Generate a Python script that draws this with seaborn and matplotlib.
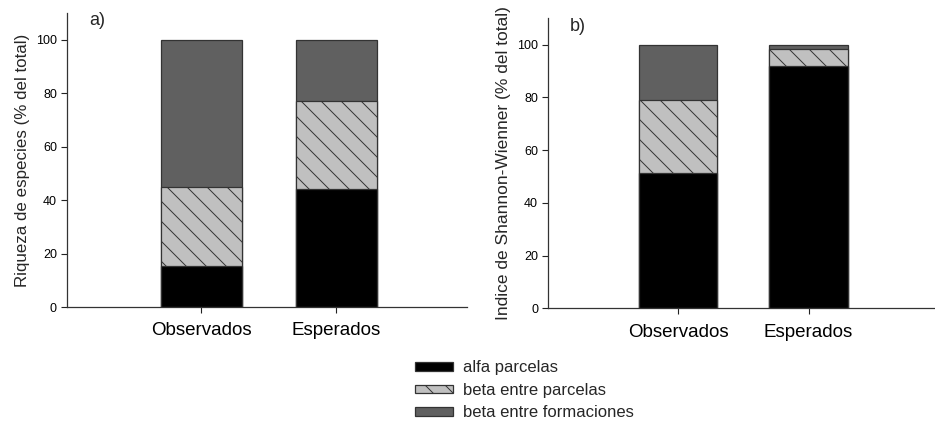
import numpy as np
import pandas as pd
import matplotlib
matplotlib.use("Agg")
import matplotlib.pyplot as plt
from matplotlib.patches import Patch
import seaborn as sns

categories = ["Observados", "Esperados"]
series_names = ["alfa parcelas", "beta entre parcelas", "beta entre formaciones"]

riqueza_alfa = [15.5, 44.2]
riqueza_beta_parcelas = [29.5, 32.8]
riqueza_beta_formaciones = [55.0, 23.0]

shannon_alfa = [51.3, 91.8]
shannon_beta_parcelas = [27.8, 6.6]
shannon_beta_formaciones = [20.9, 1.6]

ylabels = ["Riqueza de especies (% del total)", "Indice de Shannon-Wienner (% del total)"]
panel_tags = ["a)", "b)"]
yticks = [0, 20, 40, 60, 80, 100]

# render at dpi 120 (so the hatch spacing matches) and scale point sizes back
DPI = 120
S = 100.0 / DPI

sns.set_style("ticks")
plt.rcParams["font.family"] = ["Liberation Sans", "DejaVu Sans"]
plt.rcParams["hatch.linewidth"] = 0.7 * S

c_alfa = "#000000"
c_bp = "#c0c0c0"
c_bf = "#606060"
edge = "#333333"
HATCH = "\\\\"

fig = plt.figure(figsize=((935 + 0.02) / DPI, (423 + 0.02) / DPI), dpi=DPI)
ax_a = fig.add_axes([0.0713, 0.2742, 0.4282, 0.6948])
ax_b = fig.add_axes([0.5858, 0.2710, 0.4142, 0.6857])


def draw(ax, alfa, bp, bf, ylabel, ylsize):
    df = pd.DataFrame({"cat": categories, "alfa": alfa, "bp": bp, "bf": bf})
    df["top_bp"] = df["alfa"] + df["bp"]
    df["top_bf"] = df["top_bp"] + df["bf"]
    common = dict(order=categories, edgecolor=edge, linewidth=0.9 * S,
                  width=0.6, saturation=1, ax=ax)
    sns.barplot(data=df, x="cat", y="top_bf", color=c_bf, **common)
    sns.barplot(data=df, x="cat", y="top_bp", color=c_bp, hatch=HATCH, **common)
    sns.barplot(data=df, x="cat", y="alfa", color=c_alfa, **common)
    ax.set_xlim(-1.0, 1.97)
    ax.set_ylim(0, 110)
    ax.set_yticks(yticks)
    ax.set_xlabel("")
    ax.set_ylabel(ylabel, fontsize=ylsize * S, labelpad=4 * S)
    ax.tick_params(axis="y", labelsize=9 * S, length=4 * S, width=0.8 * S,
                   pad=3 * S, colors="#222222")
    ax.tick_params(axis="x", labelsize=13.5 * S, length=4 * S, width=0.8 * S,
                   pad=7 * S, colors="#222222")
    for lab in ax.get_xticklabels() + ax.get_yticklabels():
        lab.set_color("black")
    sns.despine(ax=ax)
    for s in ["left", "bottom"]:
        ax.spines[s].set_linewidth(0.9 * S)
        ax.spines[s].set_color("#333333")


draw(ax_a, riqueza_alfa, riqueza_beta_parcelas, riqueza_beta_formaciones, ylabels[0], 12.2)
draw(ax_b, shannon_alfa, shannon_beta_parcelas, shannon_beta_formaciones, ylabels[1], 12.5)
ax_a.text(0.076, 0.976, panel_tags[0], transform=ax_a.transAxes, fontsize=13 * S,
          va="center", ha="center")
ax_b.text(0.078, 0.973, panel_tags[1], transform=ax_b.transAxes, fontsize=13 * S,
          va="center", ha="center")

handles = [
    Patch(facecolor=c_alfa, edgecolor=edge, linewidth=0.9 * S, label=series_names[0]),
    Patch(facecolor=c_bp, edgecolor=edge, linewidth=0.9 * S, hatch=HATCH, label=series_names[1]),
    Patch(facecolor=c_bf, edgecolor=edge, linewidth=0.9 * S, label=series_names[2]),
]
fig.legend(handles=handles, loc="upper left", bbox_to_anchor=(0.444, 0.148),
           frameon=False, fontsize=12 * S, handlelength=2.3, handleheight=0.4,
           handletextpad=0.6, labelspacing=0.45, borderpad=0, borderaxespad=0)

fig.savefig("out.png", dpi=DPI)
